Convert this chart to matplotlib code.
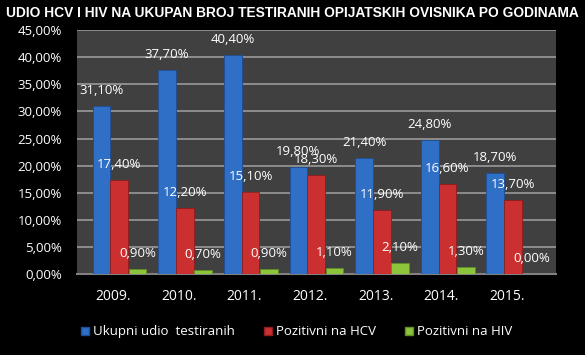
import matplotlib
matplotlib.use("Agg")
import matplotlib.pyplot as plt
import numpy as np
from matplotlib.patches import Patch

years = ["2009.", "2010.", "2011.", "2012.", "2013.", "2014.", "2015."]
ukupni = [31.1, 37.7, 40.4, 19.8, 21.4, 24.8, 18.7]
hcv = [17.4, 12.2, 15.1, 18.3, 11.9, 16.6, 13.7]
hiv = [0.9, 0.7, 0.9, 1.1, 2.1, 1.3, 0.0]
series_names = ["Ukupni udio  testiranih", "Pozitivni na HCV", "Pozitivni na HIV"]
yticks = [0, 5, 10, 15, 20, 25, 30, 35, 40, 45]
title = "UDIO HCV I HIV NA UKUPAN BROJ TESTIRANIH OPIJATSKIH OVISNIKA PO GODINAMA"

colors = ["#2f6fc6", "#cc2f2f", "#8cc43c"]
edge = ["#1d4e96", "#8f1d1d", "#5f8f24"]
offsets = [-0.18, 0.09, 0.37]
width = 0.27
ofont = ["Open Sans", "DejaVu Sans"]

fig = plt.figure(figsize=(5.85, 3.55), dpi=100, facecolor="black")
ax = fig.add_axes([0.132, 0.228, 0.819, 0.687])
ax.set_facecolor("#404040")

x = np.arange(len(years))
for vals, c, e, off in zip([ukupni, hcv, hiv], colors, edge, offsets):
    ax.bar(x + off, vals, width=width, color=c, edgecolor=e, linewidth=0.6, zorder=3)
    for xi, v in zip(x + off, vals):
        ax.annotate(f"{v:.2f}%".replace(".", ","), (xi, v), xytext=(0, 11),
                    textcoords="offset points", ha="center", va="center",
                    color="white", fontsize=9.5, family=ofont, zorder=5)

ax.set_xlim(-0.55, 6.75)
ax.set_ylim(0, 45)
ax.set_yticks(yticks)
ax.set_yticklabels([f"{t:.2f}%".replace(".", ",") for t in yticks],
                   family=ofont, fontsize=9.5, color="white")
ax.set_xticks(x)
ax.set_xticklabels(years, family=ofont, fontsize=10, color="white")
ax.tick_params(axis="y", length=0, pad=11)
ax.tick_params(axis="x", length=0, pad=11)
ax.grid(axis="y", color="#9a9a9a", linewidth=1.2, zorder=1)
for s in ["top", "right", "left"]:
    ax.spines[s].set_visible(False)
ax.spines["bottom"].set_color("#808080")
ax.spines["bottom"].set_linewidth(1.5)

t = fig.text(0.5, 0.962, title, ha="center", va="center", color="white",
             fontsize=12, fontweight="bold", family=["Liberation Sans", "DejaVu Sans"])
r = fig.canvas.get_renderer()
w = t.get_window_extent(renderer=r).width
t.set_fontsize(12 * 574.0 / w)

handles = [Patch(facecolor=c, edgecolor=e) for c, e in zip(colors, edge)]
leg = fig.legend(handles, series_names, loc="center", bbox_to_anchor=(0.507, 0.065), ncol=3,
                 frameon=False, handlelength=0.6, handleheight=0.6, handletextpad=0.3,
                 columnspacing=2.2, prop={"family": ofont, "size": 9.5})
for tx in leg.get_texts():
    tx.set_color("white")

fig.savefig("out.png", dpi=100, facecolor="black")
